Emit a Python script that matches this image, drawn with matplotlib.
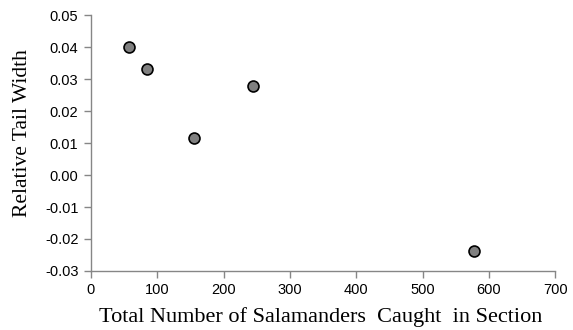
import matplotlib

matplotlib.use("Agg")
import matplotlib.pyplot as plt

# salamanders caught per section vs. relative tail width
caught = [57, 85, 155, 245, 577]
tail_width = [0.0399, 0.0332, 0.0115, 0.0278, -0.0237]

x_ticks = [0, 100, 200, 300, 400, 500, 600, 700]
y_ticks = [-0.03, -0.02, -0.01, 0.00, 0.01, 0.02, 0.03, 0.04, 0.05]

AXIS_GREY = "#868686"

fig = plt.figure(figsize=(5.73, 3.30), dpi=100)
ax = fig.add_axes([0.1588, 0.1788, 0.81, 0.7757])

ax.scatter(caught, tail_width, s=62, c="#808080", edgecolors="black",
           linewidths=1.2, zorder=3, clip_on=False)

ax.set_xlim(0, 700)
ax.set_ylim(-0.03, 0.05)
ax.set_xticks(x_ticks)
ax.set_yticks(y_ticks)
ax.set_xticklabels([str(v) for v in x_ticks])
ax.set_yticklabels([f"{v:.2f}" for v in y_ticks])

for side in ("top", "right"):
    ax.spines[side].set_visible(False)
for side in ("left", "bottom"):
    ax.spines[side].set_color(AXIS_GREY)
    ax.spines[side].set_linewidth(1.0)

ax.tick_params(direction="out", length=5, width=1.0, color=AXIS_GREY,
               labelsize=10.5, labelcolor="black", pad=4)
for lab in ax.get_xticklabels() + ax.get_yticklabels():
    lab.set_family(["Liberation Sans", "DejaVu Sans"])

serif = ["Liberation Serif", "DejaVu Serif"]
ax.set_xlabel("Total Number of Salamanders  Caught  in Section",
              family=serif, fontsize=16)
ax.set_ylabel("Relative Tail Width", family=serif, fontsize=15.5)
ax.xaxis.set_label_coords(0.495, -0.14)
ax.yaxis.set_label_coords(-0.128, 0.54)

fig.savefig("out.png", dpi=100)
plt.close(fig)
